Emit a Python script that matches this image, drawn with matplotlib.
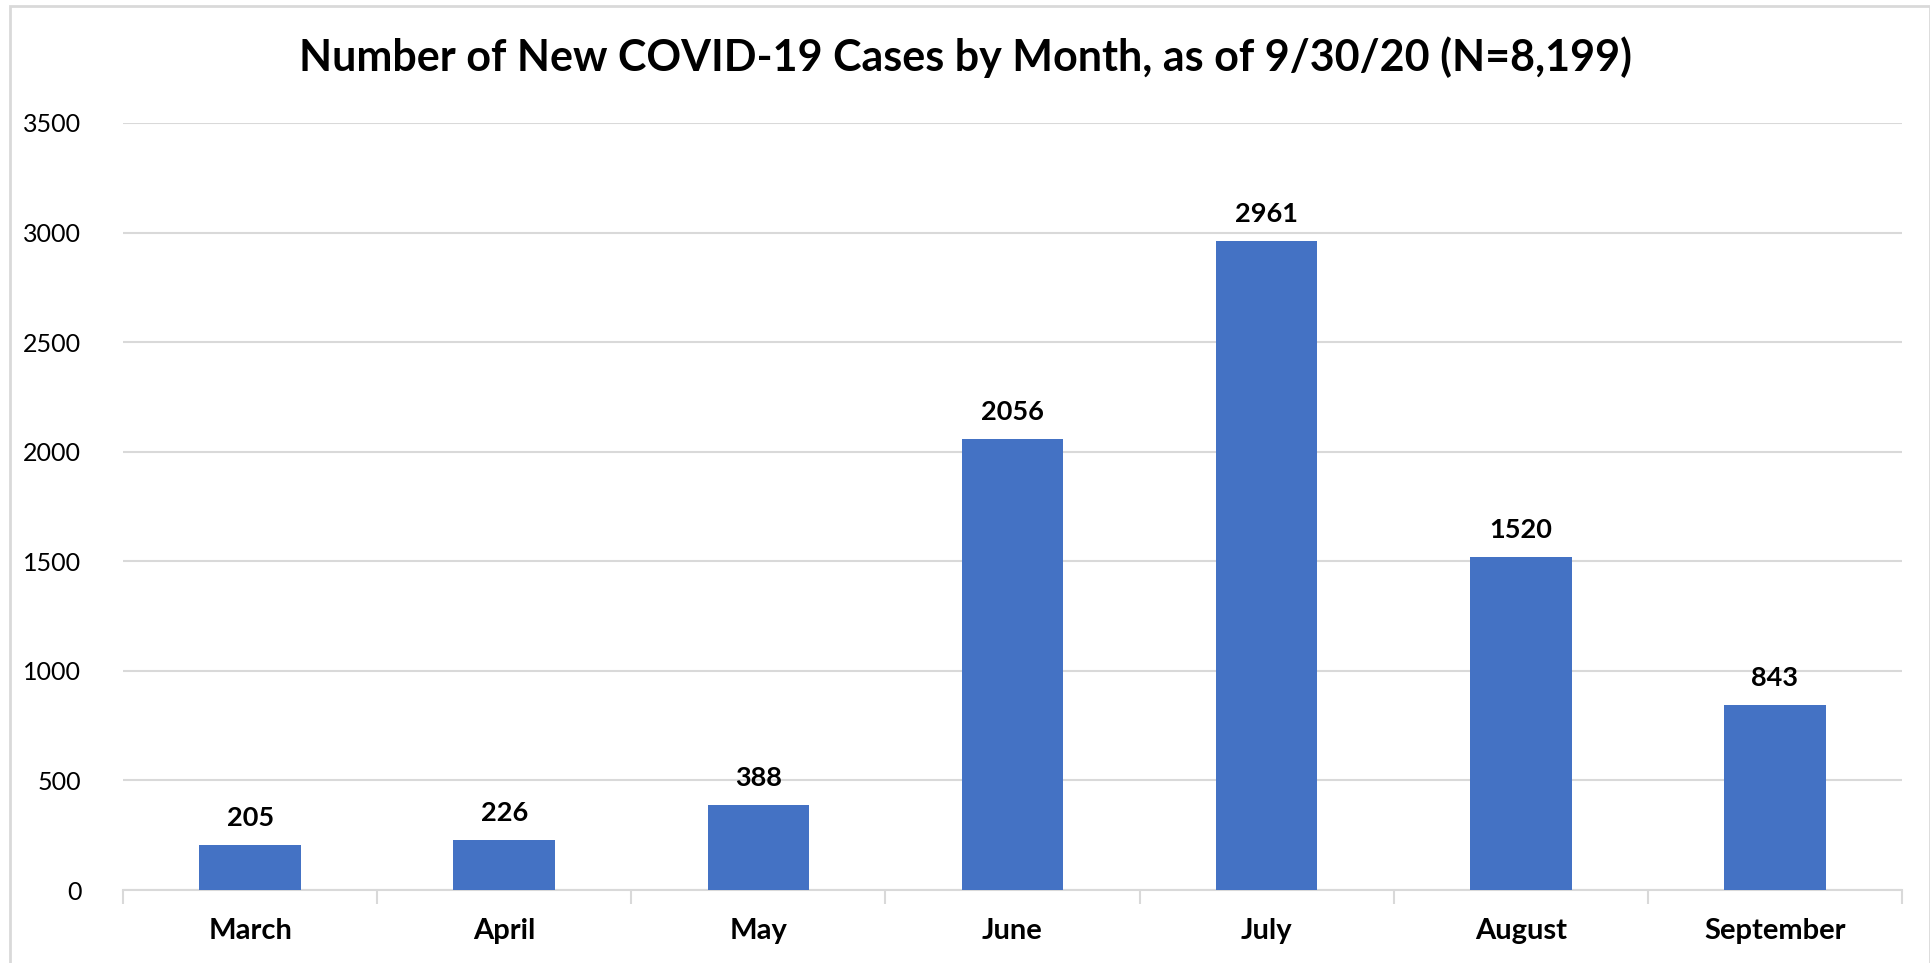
import matplotlib.pyplot as plt
from matplotlib.patches import Rectangle
import numpy as np

plt.rcParams['font.family'] = ['Lato', 'DejaVu Sans']

months = ["March", "April", "May", "June", "July", "August", "September"]
cases = [205, 226, 388, 2056, 2961, 1520, 843]
yticks = [0, 500, 1000, 1500, 2000, 2500, 3000, 3500]

W, H = 1931, 963
fig = plt.figure(figsize=(W / 100, H / 100), dpi=100)
ax = fig.add_axes([123 / W, 1 - 890 / H, (1902 - 123) / W, (890 - 123) / H])

x = np.arange(len(months))
bars = ax.bar(x, cases, width=0.40, color="#4472C4", zorder=3)
for xi, v in zip(x, cases):
    ax.annotate(str(v), (xi, v), xytext=(0, 11), textcoords="offset points",
                ha="center", va="bottom", fontsize=19.5, fontweight="bold")

ax.set_xlim(-0.5, len(months) - 0.5)
ax.set_ylim(0, 3500)
ax.set_yticks(yticks)
ax.set_yticklabels([str(t) for t in yticks], fontsize=18)
ax.grid(axis="y", color="#d9d9d9", linewidth=1.5, zorder=0)
ax.tick_params(axis="y", length=0, pad=30)

ax.set_xticks(x)
ax.set_xticklabels(months, fontsize=21, fontweight="bold")
ax.set_xticks(np.arange(len(months) + 1) - 0.5, minor=True)
ax.tick_params(axis="x", which="major", length=0, pad=20)
ax.tick_params(axis="x", which="minor", length=10, width=1.5, color="#d9d9d9")

for s in ["top", "right", "left"]:
    ax.spines[s].set_visible(False)
ax.spines["bottom"].set_color("#d9d9d9")
ax.spines["bottom"].set_linewidth(1.5)

fig.text(0.5, 1 - 57 / H, "Number of New COVID-19 Cases by Month, as of 9/30/20 (N=8,199)",
         ha="center", va="center", fontsize=31, fontweight="bold")

fig.patches.append(Rectangle((10 / W, -0.01), (1930 - 10) / W, 1 - 6 / H + 0.01,
                             transform=fig.transFigure, fill=False,
                             edgecolor="#d9d9d9", linewidth=2))

plt.savefig("out.png", dpi=100)
